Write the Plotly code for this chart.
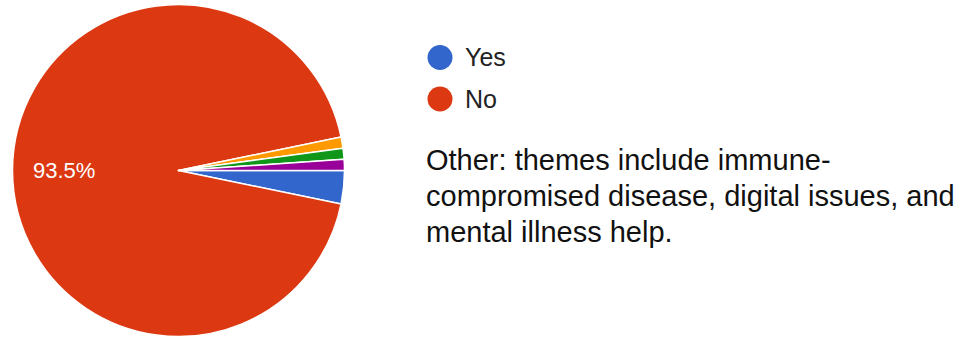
import math
import plotly.graph_objects as go

# Survey responses (counts)
labels = ["Yes", "No", "Immune-compromised disease", "Digital issues", "Mental illness help"]
counts = [3, 87, 1, 1, 1]
colors = ["#3366cc", "#dc3912", "#ff9900", "#109618", "#990099"]

legend_items = ["Yes", "No"]
note_lines = [
    "Other: themes include immune-",
    "compromised disease, digital issues, and",
    "mental illness help.",
]

W, H = 971, 337
FONT = "Arial, Liberation Sans, Helvetica, sans-serif"

# pie geometry in pixels
cx, cy, r = 178.5, 170.5, 166
start_deg = 90  # first slice begins at 3 o'clock, clockwise

fig = go.Figure(
    go.Pie(
        labels=labels,
        values=counts,
        sort=False,
        direction="clockwise",
        rotation=start_deg,
        marker=dict(colors=colors, line=dict(color="white", width=1.5)),
        textinfo="none",
        showlegend=False,
        hoverinfo="label+value+percent",
        domain=dict(
            x=[(cx - r) / W, (cx + r) / W],
            y=[(H - cy - r) / H, (H - cy + r) / H],
        ),
    )
)

shapes = []
annotations = []

# percentage label for the large "No" slice, placed on its bisector
total = sum(counts)
idx = labels.index("No")
before = sum(counts[:idx])
mid = math.radians(start_deg + (before + counts[idx] / 2) / total * 360)
lx = cx + 0.69 * r * math.sin(mid)
ly = cy - 0.69 * r * math.cos(mid)
annotations.append(dict(
    text=f"{counts[idx] / total * 100:.1f}%", xref="paper", yref="paper",
    x=lx / W, y=(H - ly) / H, xanchor="center", yanchor="middle",
    showarrow=False, font=dict(size=22, color="white", family=FONT),
))

for i, name in enumerate(legend_items):
    yc = 57.5 + i * 41.5
    shapes.append(dict(
        type="circle", xref="paper", yref="paper",
        x0=(440 - 12.5) / W, x1=(440 + 12.5) / W,
        y0=(H - yc - 12.5) / H, y1=(H - yc + 12.5) / H,
        fillcolor=colors[labels.index(name)], line=dict(width=0),
    ))
    annotations.append(dict(
        text=name, xref="paper", yref="paper",
        x=463 / W, y=(H - yc) / H, xanchor="left", yanchor="middle",
        showarrow=False, font=dict(size=25, color="#222222", family=FONT),
    ))

for i, line in enumerate(note_lines):
    yc = 160 + i * 36
    annotations.append(dict(
        text=line, xref="paper", yref="paper",
        x=424 / W, y=(H - yc) / H, xanchor="left", yanchor="middle",
        showarrow=False, font=dict(size=29, color="#111111", family=FONT),
    ))

fig.update_layout(
    width=W, height=H,
    margin=dict(l=0, r=0, t=0, b=0),
    paper_bgcolor="white", plot_bgcolor="white",
    shapes=shapes, annotations=annotations,
)

fig.write_html("out.html")
